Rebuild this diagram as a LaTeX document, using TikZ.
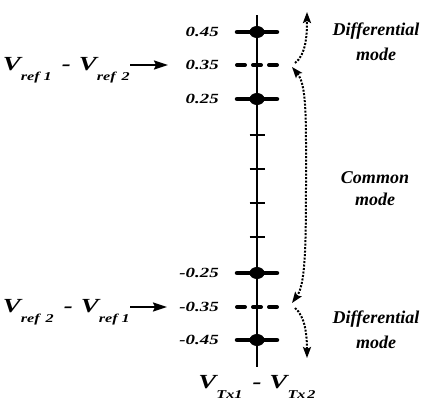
\documentclass[tikz,border=0pt]{standalone}
\usepackage{fontspec}
\setmainfont{Liberation Serif}
\newfontfamily\widefont{Liberation Serif}[FakeStretch=1.35]
\usetikzlibrary{arrows.meta}

\newcommand{\Vsub}[1]{{\widefont\fontsize{20}{20}\selectfont V}\raisebox{-10pt}{\widefont\fontsize{12}{12}\selectfont #1}}
\newcommand{\Vdash}{\hspace{10pt}{\widefont\fontsize{20}{20}\selectfont -}\hspace{8pt}}

\begin{document}
\begin{tikzpicture}[x=1pt, y=-1pt,
    every node/.style={inner sep=0pt, font=\bfseries\itshape},
    axisline/.style={line width=2pt},
    bigtick/.style={line width=4.5pt, line cap=round},
    smalltick/.style={line width=1.2pt},
    halftick/.style={line width=4pt, line cap=round, dash pattern=on 8pt off 8pt},
    ticklbl/.style={anchor=east, font=\widefont\fontsize{14}{14}\selectfont\bfseries\itshape},
    modelbl/.style={align=center, anchor=base, font=\fontsize{18}{#1}\selectfont\bfseries\itshape},
    refarrow/.style={-{Stealth[length=14pt, width=9pt, inset=2pt]}, line width=1.8pt},
    modearrow/.style={line width=2pt, dash pattern=on 2pt off 1.5pt},
    modetip/.tip={Stealth[length=11pt, width=8pt, inset=2pt]}
]
\useasboundingbox (0,0) rectangle (424,402);

% axis
\draw[axisline] (257,15) -- (257,367);

% ticks with dots
\foreach \y/\t/\n in {32/0.45/p45, 99/0.25/p25, 273/-0.25/m25, 340/-0.45/m45} {
    \draw[bigtick] (237,\y) -- (277,\y);
    \fill (257,\y) ellipse (7.5 and 6);
    \node[ticklbl] (\n) at (219,\y) {\t};
}

% reference levels
\foreach \y/\t/\n in {65/0.35/p35, 307/-0.35/m35} {
    \draw[halftick] (237,\y) -- (279,\y);
    \node[ticklbl] (\n) at (219,\y) {\t};
}

% small ticks
\foreach \y in {135,169,203,237}
    \draw[smalltick] (249.5,\y) -- (264.5,\y);

% reference labels
\node[anchor=base east] (refA) at (130,70) {\Vsub{ref\hspace{4pt}1}\Vdash\Vsub{ref\hspace{6pt}2}};
\node[anchor=base east] (refB) at (130,312) {\Vsub{ref\hspace{6pt}2}\Vdash\Vsub{ref\hspace{4pt}1}};
\coordinate (tipA) at (168,65);
\coordinate (tipB) at (167,307);
\draw[refarrow] (refA.east |- tipA) -- (tipA);
\draw[refarrow] (refB.east |- tipB) -- (tipB);

% axis label
\node[anchor=base] (vtx) at (257,388) {\Vsub{Tx1}\Vdash\Vsub{Tx\hspace{2pt}2}};

% mode labels (base = last line)
\node[modelbl=25] (diffA) at (376,60) {Differential\\mode};
\node[modelbl=22] (comm) at (375,205) {Common\\mode};
\node[modelbl=25] (diffB) at (376,348) {Differential\\mode};

% mode arrows
\coordinate (topA) at (307,12);
\coordinate (startA) at (295,63);
\coordinate (endC) at (292,67);
\coordinate (endD) at (292,303);
\coordinate (startB) at (295,308);
\coordinate (botB) at (307,358);
\draw[modearrow, -modetip] (startA) .. controls (306,55) and (307,35) .. (topA);
\draw[modearrow, modetip-modetip] (endC) .. controls (307,85) and (306,120) .. (306,185) .. controls (306,250) and (305,285) .. (endD);
\draw[modearrow, -modetip] (startB) .. controls (305,316) and (307,335) .. (botB);
\end{tikzpicture}
\end{document}
